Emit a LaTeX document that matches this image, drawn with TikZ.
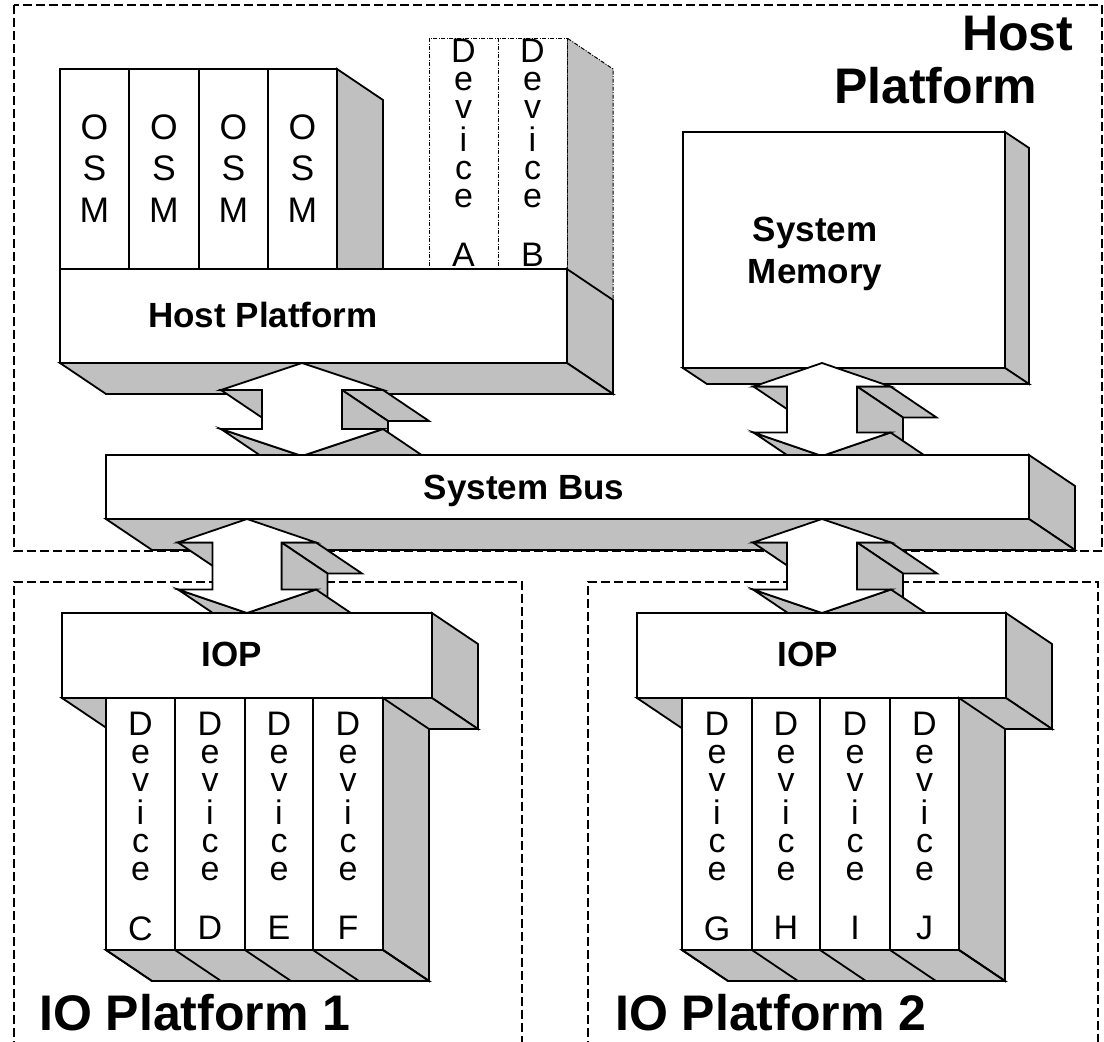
\documentclass[tikz,border=0pt]{standalone}
\usepackage{fontspec}
\setmainfont{Liberation Sans}
\definecolor{facegray}{RGB}{192,192,192}

\tikzset{
  outline/.style={draw=black, line width=1.8pt},
  face3d/.style={outline, fill=facegray},
  front3d/.style={outline, fill=white},
  ghost/.style={draw=black, line width=1pt, dash pattern=on 4pt off 1.5pt on 1pt off 1.5pt},
  ghostface/.style={ghost, fill=facegray},
  ghostfront/.style={ghost, fill=white},
  platform/.style={draw=black, line width=1.3pt, dash pattern=on 9pt off 4pt},
  vlabel/.style={inner sep=0pt, font=\fontsize{34}{28}\selectfont},
  osmlabel/.style={inner sep=0pt, font=\fontsize{35.5}{41.5}\selectfont},
  boxlabel/.style={inner sep=0pt, font=\fontsize{35}{42}\selectfont\bfseries},
  biglabel/.style={inner sep=0pt, font=\fontsize{50}{56}\selectfont\bfseries},
}

% extruded slab: front rectangle (x1,y1)-(x2,y2), depth vector (dx,dy)
\newcommand{\slab}[6]{%
  \filldraw[face3d] (#3,#2) -- ({#3+#5},{#2+#6}) -- ({#3+#5},{#4+#6}) -- (#3,#4) -- cycle;
  \filldraw[face3d] (#1,#4) -- (#3,#4) -- ({#3+#5},{#4+#6}) -- ({#1+#5},{#4+#6}) -- cycle;
  \filldraw[front3d] (#1,#2) rectangle (#3,#4);
}

% extruded double-headed block arrow: centre x, top y, bottom y,
% head half-width, shaft half-width, head length
\def\DX{46}
\def\DY{31}
\newcommand{\blockarrow}[6]{%
  \pgfmathsetmacro\ArHL{#1-#4}%
  \pgfmathsetmacro\ArSL{#1-#5}%
  \pgfmathsetmacro\ArSR{#1+#5}%
  \pgfmathsetmacro\ArHR{#1+#4}%
  \pgfmathsetmacro\ArYU{#2+#6}%
  \pgfmathsetmacro\ArYL{#3-#6}%
  \filldraw[face3d] (\ArSL,\ArYU) -- (\ArHL,\ArYU) -- (\ArHL+\DX,\ArYU+\DY) -- (\ArSL+\DX,\ArYU+\DY) -- cycle;
  \filldraw[face3d] (\ArSR,\ArYU) -- (\ArHR,\ArYU) -- (\ArHR+\DX,\ArYU+\DY) -- (\ArSR+\DX,\ArYU+\DY) -- cycle;
  \filldraw[face3d] (\ArSR,\ArYU) -- (\ArSR,\ArYL) -- (\ArSR+\DX,\ArYL+\DY) -- (\ArSR+\DX,\ArYU+\DY) -- cycle;
  \filldraw[face3d] (#1,#3) -- (\ArHL,\ArYL) -- (\ArHL+\DX,\ArYL+\DY) -- (#1+\DX,#3+\DY) -- cycle;
  \filldraw[face3d] (\ArHR,\ArYL) -- (#1,#3) -- (#1+\DX,#3+\DY) -- (\ArHR+\DX,\ArYL+\DY) -- cycle;
  \filldraw[front3d] (#1,#2) -- (\ArHR,\ArYU) -- (\ArSR,\ArYU) -- (\ArSR,\ArYL) -- (\ArHR,\ArYL)
    -- (#1,#3) -- (\ArHL,\ArYL) -- (\ArSL,\ArYL) -- (\ArSL,\ArYU) -- (\ArHL,\ArYU) -- cycle;
}

% row of device cards hanging under an IOP: x-boundaries, top, bottom
\newcommand{\cardrow}[3]{%
  \def\CardList{#1}%
  \foreach \cx [count=\ci] in \CardList {\ifnum\ci=1 \xdef\CardFirst{\cx}\fi \xdef\CardLast{\cx}}%
  \filldraw[face3d] (\CardLast,#2) -- (\CardLast+\DX,#2+\DY) -- (\CardLast+\DX,#3+\DY) -- (\CardLast,#3) -- cycle;
  \filldraw[face3d] (\CardFirst,#3) -- (\CardLast,#3) -- (\CardLast+\DX,#3+\DY) -- (\CardFirst+\DX,#3+\DY) -- cycle;
  \foreach \cx in \CardList {\draw[outline] (\cx,#3) -- (\cx+\DX,#3+\DY);}%
  \foreach \cx [remember=\cx as \cprev (initially #2)] in \CardList {%
    \ifdim\cprev pt=#2pt\else\filldraw[front3d] (\cprev,#2) rectangle (\cx,#3);\fi}%
}

\begin{document}
\begin{tikzpicture}[x=1pt, y=-1pt]
\useasboundingbox (0,0) rectangle (1104,1042);
\clip (0,0) rectangle (1104,1042);

% platform boundaries
\draw[platform] (14,5) rectangle (1102,551);
\draw[platform] (14,1050) -- (14,582) -- (522,582) -- (522,1050);
\draw[platform] (588,1050) -- (588,582) -- (1098,582) -- (1098,1050);

% OS modules and host devices standing on the host platform
\filldraw[face3d] (337,69) -- (383,100) -- (383,269) -- (337,269) -- cycle;
\filldraw[ghostface] (567,269) -- (567,38) -- (613,69) -- (613,300);
\foreach \xa/\xb in {60/129, 129/199, 199/268, 268/337}
  \filldraw[front3d] (\xa,69) rectangle (\xb,269);
\foreach \xa/\xb in {429/498, 498/567}
  \filldraw[ghostfront] (\xa,38) rectangle (\xb,269);

\node[osmlabel, anchor=base] (osm1) at (94.5,139) {\begin{tabular}[t]{@{}c@{}}O\\S\\M\end{tabular}};
\node[osmlabel, anchor=base] (osm2) at (164,139) {\begin{tabular}[t]{@{}c@{}}O\\S\\M\end{tabular}};
\node[osmlabel, anchor=base] (osm3) at (233.5,139) {\begin{tabular}[t]{@{}c@{}}O\\S\\M\end{tabular}};
\node[osmlabel, anchor=base] (osm4) at (302.5,139) {\begin{tabular}[t]{@{}c@{}}O\\S\\M\end{tabular}};
\node[vlabel, anchor=base] (devA) at (463.5,62) {\begin{tabular}[t]{@{}c@{}}D\\e\\v\\i\\c\\e\\ \\A\end{tabular}};
\node[vlabel, anchor=base] (devB) at (532.5,62) {\begin{tabular}[t]{@{}c@{}}D\\e\\v\\i\\c\\e\\ \\B\end{tabular}};

% host platform and system memory
\slab{60}{269}{567}{363}{46}{31}
\slab{683}{132}{1005}{368}{24}{16}

% links to the system bus
\blockarrow{302}{363}{456}{81}{40}{27}
\blockarrow{822}{363}{456}{68.5}{35}{23.5}

% system bus
\slab{106}{455}{1029}{519}{46}{31}

% links to the IO platforms
\blockarrow{247}{519}{613}{69}{34.5}{23.5}
\blockarrow{822}{519}{613}{69}{35}{23.5}

% IO processors with their device cards
\slab{62}{613}{432}{698}{46}{31}
\cardrow{106,175,245,313,383}{698}{950}
\slab{637}{613}{1006}{698}{46}{31}
\cardrow{682,752,820,890,959}{698}{950}

\node[vlabel, anchor=base] (devC) at (140.5,735) {\begin{tabular}[t]{@{}c@{}}D\\e\\v\\i\\c\\e\\ \\C\end{tabular}};
\node[vlabel, anchor=base] (devD) at (210,735) {\begin{tabular}[t]{@{}c@{}}D\\e\\v\\i\\c\\e\\ \\D\end{tabular}};
\node[vlabel, anchor=base] (devE) at (279,735) {\begin{tabular}[t]{@{}c@{}}D\\e\\v\\i\\c\\e\\ \\E\end{tabular}};
\node[vlabel, anchor=base] (devF) at (348,735) {\begin{tabular}[t]{@{}c@{}}D\\e\\v\\i\\c\\e\\ \\F\end{tabular}};
\node[vlabel, anchor=base] (devG) at (717,735) {\begin{tabular}[t]{@{}c@{}}D\\e\\v\\i\\c\\e\\ \\G\end{tabular}};
\node[vlabel, anchor=base] (devH) at (786,735) {\begin{tabular}[t]{@{}c@{}}D\\e\\v\\i\\c\\e\\ \\H\end{tabular}};
\node[vlabel, anchor=base] (devI) at (855,735) {\begin{tabular}[t]{@{}c@{}}D\\e\\v\\i\\c\\e\\ \\I\end{tabular}};
\node[vlabel, anchor=base] (devJ) at (924.5,735) {\begin{tabular}[t]{@{}c@{}}D\\e\\v\\i\\c\\e\\ \\J\end{tabular}};

% box captions
\node[boxlabel, anchor=base] (hostlbl) at (263,327) {Host Platform};
\node[boxlabel, anchor=base] (memlbl) at (815,241) {\begin{tabular}[t]{@{}c@{}}System\\Memory\end{tabular}};
\node[boxlabel, anchor=base] (buslbl) at (524,499) {System Bus};
\node[boxlabel, anchor=base] (iop1lbl) at (232,666) {IOP};
\node[boxlabel, anchor=base] (iop2lbl) at (808,666) {IOP};

% platform titles
\node[biglabel, anchor=base west] (hosttitle) at (962,50) {Host};
\node[biglabel, anchor=base west] (hosttitle2) at (834,103) {Platform};
\node[biglabel, anchor=base west] (io1title) at (39,1030) {IO Platform 1};
\node[biglabel, anchor=base west] (io2title) at (615,1030) {IO Platform 2};
\end{tikzpicture}
\end{document}
